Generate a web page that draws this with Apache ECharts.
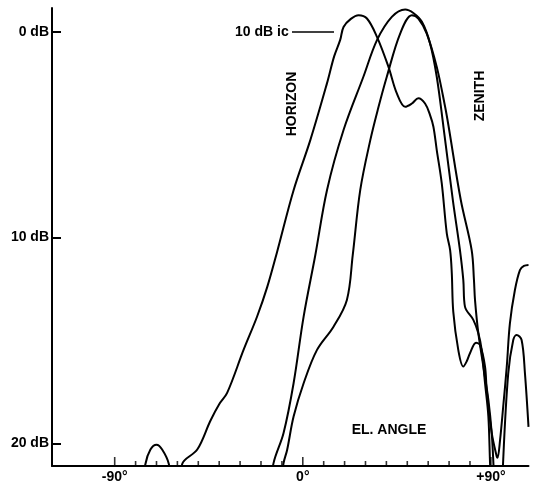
<!DOCTYPE html>
<html><head><meta charset="utf-8">
<script src="https://cdn.jsdelivr.net/npm/echarts@6/dist/echarts.min.js"></script>
<style>html,body{margin:0;padding:0;background:#fff}#c{width:533px;height:485px}</style>
</head><body><div id="c"></div><script>
// Elevation angle (deg) vs relative level (dB down)
const curveA = [
  [-78, 23.0], [-75.3, 21.0], [-72.9, 20.3], [-70.0, 20.07], [-67.3, 20.3], [-64.1, 21.0],
  [-62, 22.6], [-60.5, 23.2], [-59, 22.4], [-57.7, 21.0], [-50.5, 20.3], [-44.2, 18.9],
  [-40, 18.1], [-36.2, 17.55], [-28.3, 15.45], [-21.9, 13.85], [-17, 12.4], [-12.3, 10.7],
  [-4.4, 7.7], [3.6, 5.27], [11.6, 2.5], [15, 1.2], [17.9, 0.4], [19.5, -0.23], [23, -0.62],
  [26.7, -0.80], [30.7, -0.64], [35.5, 0.25], [41.0, 1.71], [45.0, 3.0], [49.0, 3.65],
  [52.2, 3.49], [55.3, 3.24], [58.5, 3.49], [60.9, 4.05], [62.5, 4.62], [64.1, 5.75],
  [66.5, 7.37], [68.9, 9.8], [70.5, 10.61], [71.3, 11.74], [72.0, 13.6], [74.4, 15.46],
  [76.8, 16.27], [78.5, 16.0], [80.0, 15.62], [82.9, 15.11], [84.8, 15.22], [87.2, 16.27],
  [88.0, 17.4], [90.4, 19.49], [92.8, 20.64], [93.2, 20.7], [94.4, 19.83], [95.9, 18.21],
  [97.6, 16.27], [99.1, 14.17], [101.5, 12.55], [103.9, 11.58], [105.8, 11.38], [108, 11.33]
];
const curveB = [
  [-17, 23], [-14.0, 20.96], [-9.2, 19.5], [-4.4, 17.08], [0.4, 13.84], [6.0, 10.85],
  [11.6, 7.69], [19.5, 4.78], [29.0, 2.19], [35.5, 0.41], [42.6, -0.72], [49.0, -1.08],
  [52.9, -0.91], [57.0, -0.48], [60.9, 0.57], [64.1, 2.19], [67.3, 4.62], [71.8, 8.18],
  [75.2, 10.61], [76.8, 12.06], [77.6, 13.36], [81.6, 14.0], [84.0, 14.65], [85.6, 15.46],
  [87.2, 17.08], [88.8, 18.7], [89.6, 20.96], [91, 24.5], [93, 28], [94.8, 24.5],
  [95.9, 20.8], [98.3, 16.6], [100.7, 14.98], [102.3, 14.73], [104.7, 14.98], [106.3, 16.6],
  [108, 19.2]
];
const curveC = [
  [-12, 23], [-9.2, 20.96], [-7.5, 20.32], [-4.4, 18.7], [0.4, 17.08], [6.8, 15.46],
  [14.7, 14.33], [21.1, 13.03], [23.9, 10.85], [27.5, 7.69], [32.3, 5.27], [36.1, 3.71],
  [40.2, 2.19], [46.6, 0.09], [52.2, -0.80], [55.3, -0.64], [59.3, 0.09], [64.1, 1.71],
  [68.1, 3.65], [69.8, 4.62], [75.6, 8.18], [80.8, 10.61], [81.9, 12.06], [82.4, 13.03],
  [84.0, 14.65], [86.4, 16.27], [88.8, 17.89], [90.4, 19.5], [91.2, 20.96], [92.5, 24], [94, 28]
];
const xMinorTicks = [-80, -70, -60, -50, -40, -30, -20, -10, 10, 20, 30, 40, 50, 60, 70, 80];
const xMajorTicks = [-90, 0, 90];
const xTickText = {'-90': '-90°', '0': '0°', '90': '+90°'};
const yTicks = [0, 10, 20];
const yTickText = {'0': '0 dB', '10': '10 dB', '20': '20 dB'};

const X_MIN = -120, X_MAX = 108, Y_MIN = -1.15, Y_MAX = 21.1;

const FONT = '"Liberation Sans", Arial, sans-serif';
const chart = echarts.init(document.getElementById('c'), null, {renderer: 'canvas'});
const lineSeries = (d) => ({
  type: 'line', data: d, showSymbol: false, smooth: 0.35, clip: true, silent: true,
  lineStyle: {color: '#000', width: 2}, animation: false
});
// axis tick marks placed on the x scale at the bottom edge of the plot
const tickSeries = (vals, len) => ({
  type: 'scatter', silent: true, clip: false, animation: false,
  data: vals.map(v => [v, Y_MAX]),
  symbol: 'rect', symbolSize: [1.6, len], symbolOffset: [0, -len / 2],
  itemStyle: {color: '#000'}, z: 5
});
chart.setOption({
  animation: false,
  backgroundColor: '#fff',
  grid: {left: 52, right: 4.5, top: 8, bottom: 19},
  xAxis: {type: 'value', min: X_MIN, max: X_MAX, position: 'bottom',
     axisLine: {show: true, onZero: false, lineStyle: {color: '#000', width: 2}},
     axisTick: {show: false},
     axisLabel: {show: true, customValues: xMajorTicks, formatter: v => xTickText[String(v)] || '',
                 color: '#000', fontWeight: 'bold', fontSize: 14, fontFamily: FONT, margin: 4},
     splitLine: {show: false}},
  yAxis: {type: 'value', inverse: true, min: Y_MIN, max: Y_MAX,
     axisLine: {show: true, onZero: false, lineStyle: {color: '#000', width: 2}},
     axisTick: {show: true, inside: true, length: 9, customValues: yTicks, lineStyle: {color: '#000', width: 2}},
     axisLabel: {show: true, customValues: yTicks, formatter: v => yTickText[String(v)] || '',
                 color: '#000', fontWeight: 'bold', fontSize: 14, fontFamily: FONT, margin: 3},
     splitLine: {show: false}},
  series: [lineSeries(curveA), lineSeries(curveB), lineSeries(curveC),
           tickSeries(xMinorTicks, 5), tickSeries(xMajorTicks, 9)],
  graphic: [
    {type: 'text', x: 235, y: 32, style: {text: '10 dB ic', font: 'bold 14px ' + FONT, fill: '#000', align: 'left', verticalAlign: 'middle'}},
    {type: 'line', shape: {x1: 292, y1: 32, x2: 334, y2: 32}, style: {stroke: '#000', lineWidth: 1.5}},
    {type: 'text', x: 292, y: 104, rotation: Math.PI / 2, style: {text: 'HORIZON', font: 'bold 14px ' + FONT, fill: '#000', align: 'center', verticalAlign: 'middle'}},
    {type: 'text', x: 480, y: 96, rotation: Math.PI / 2, style: {text: 'ZENITH', font: 'bold 14px ' + FONT, fill: '#000', align: 'center', verticalAlign: 'middle'}},
    {type: 'text', x: 389, y: 430, style: {text: 'EL. ANGLE', font: 'bold 14px ' + FONT, fill: '#000', align: 'center', verticalAlign: 'middle'}}
  ]
});
</script></body></html>
